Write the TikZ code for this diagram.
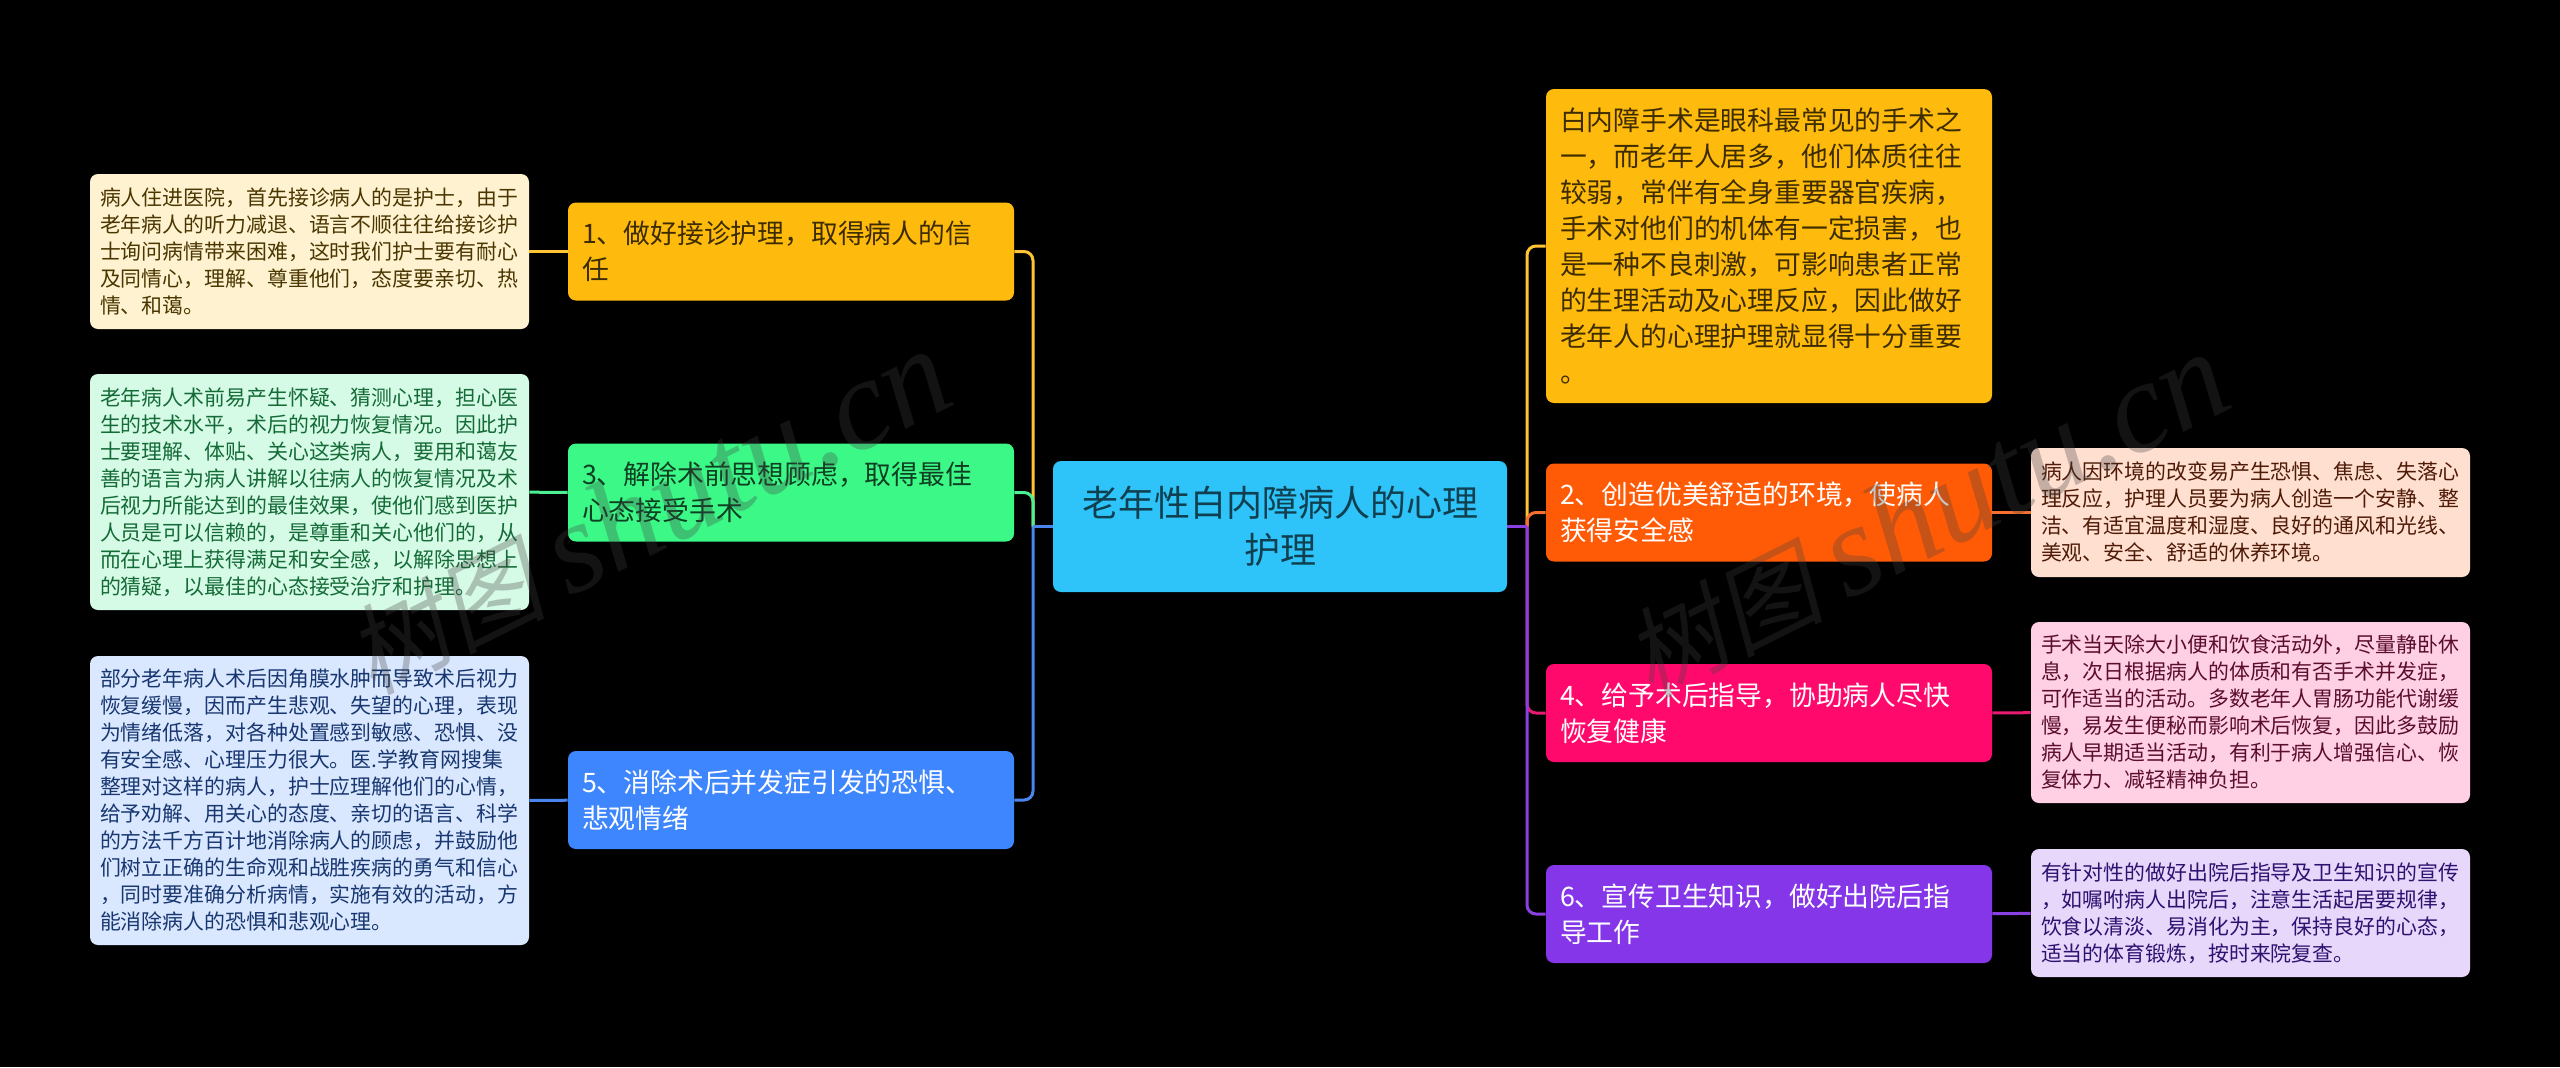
\documentclass[tikz,border=0pt]{standalone}
\usepackage{fontspec}
\setmainfont{Noto Sans CJK SC}
\newfontfamily\marklatin[Scale=1.12]{Liberation Serif}
\newfontfamily\markcjk[FakeSlant=0.2,Scale=0.85]{Noto Sans CJK SC}
\usetikzlibrary{positioning}

\definecolor{rootfill}{HTML}{2EC3F9}
\definecolor{roottext}{HTML}{10404F}
\definecolor{yellowfill}{HTML}{FFBB0D}
\definecolor{yellowtext}{HTML}{3D2C00}
\definecolor{yellowline}{HTML}{FFC333}
\definecolor{yellowleaf}{HTML}{FFF2D0}
\definecolor{yellowleaftext}{HTML}{4A3600}
\definecolor{greenfill}{HTML}{3CF887}
\definecolor{greentext}{HTML}{0F3F22}
\definecolor{greenline}{HTML}{4CF090}
\definecolor{greenleaf}{HTML}{D5FAE5}
\definecolor{greenleaftext}{HTML}{146B37}
\definecolor{bluefill}{HTML}{3E86FD}
\definecolor{blueline}{HTML}{4A84EC}
\definecolor{blueleaf}{HTML}{DAE8FF}
\definecolor{blueleaftext}{HTML}{183770}
\definecolor{orangefill}{HTML}{FF5A06}
\definecolor{orangeline}{HTML}{F87030}
\definecolor{orangeleaf}{HTML}{FFDFCF}
\definecolor{orangeleaftext}{HTML}{4F1B08}
\definecolor{pinkfill}{HTML}{FF0A6C}
\definecolor{pinkline}{HTML}{E81A72}
\definecolor{pinkleaf}{HTML}{FFCFE3}
\definecolor{pinkleaftext}{HTML}{5A0D2E}
\definecolor{purplefill}{HTML}{8436E8}
\definecolor{purpleline}{HTML}{8A40E0}
\definecolor{purpleleaf}{HTML}{E6D7FB}
\definecolor{purpleleaftext}{HTML}{2F1170}

\begin{document}
\begin{tikzpicture}[x=0.5pt,y=-0.5pt,
    root/.style={rectangle,rounded corners=4pt,fill=rootfill,text=roottext,inner sep=0pt,
      minimum width=227pt,minimum height=65.5pt,text width=205pt,align=center,
      font=\fontsize{18pt}{23.5pt}\selectfont},
    topic/.style 2 args={rectangle,rounded corners=4pt,fill=#1,text=#2,inner sep=0pt,
      minimum width=223pt,text width=209pt,align=left,
      font=\fontsize{13.4pt}{18pt}\selectfont},
    leaf/.style 2 args={rectangle,rounded corners=4pt,fill=#1,text=#2,inner sep=0pt,
      minimum width=219.5pt,text width=209.5pt,align=left,
      font=\fontsize{10.45pt}{13.5pt}\selectfont},
    link/.style={line width=1.5pt,rounded corners=4.5pt},
    watermark/.style={rotate=26.5,text=black!75,text opacity=0.3,inner sep=0pt,
      font=\fontsize{58pt}{58pt}\selectfont}]
    \fill[black] (0,0) rectangle (2560,1067);

    \node[root] (root) at (1280, 526.5) {老年性白内障病人的心理\\护理};
    \coordinate (ljoin) at (1033, 526.5);
    \coordinate (rjoin) at (1527, 526.5);

    \node[topic={yellowfill}{yellowtext},minimum height=49pt] (t1) at (791, 251.5)
    {1、做好接诊护理，取得病人的信\\任};
    \node[topic={greenfill}{greentext},minimum height=49pt] (t3) at (791, 492.5)
    {3、解除术前思想顾虑，取得最佳\\心态接受手术};
    \node[topic={bluefill}{white},minimum height=49pt] (t5) at (791, 800)
    {5、消除术后并发症引发的恐惧、\\悲观情绪};
    \node[topic={yellowfill}{yellowtext},minimum height=157pt] (intro) at (1769, 246)
    {白内障手术是眼科最常见的手术之\\一，而老年人居多，他们体质往往\\较弱，常伴有全身重要器官疾病，\\手术对他们的机体有一定损害，也\\是一种不良刺激，可影响患者正常\\的生理活动及心理反应，因此做好\\老年人的心理护理就显得十分重要\\。};
    \node[topic={orangefill}{white},minimum height=49pt] (t2) at (1769, 512.5)
    {2、创造优美舒适的环境，使病人\\获得安全感};
    \node[topic={pinkfill}{white},minimum height=49pt] (t4) at (1769, 713)
    {4、给予术后指导，协助病人尽快\\恢复健康};
    \node[topic={purplefill}{white},minimum height=49pt] (t6) at (1769, 914)
    {6、宣传卫生知识，做好出院后指\\导工作};

    \node[leaf={yellowleaf}{yellowleaftext},minimum height=77.5pt] (l1) at (309.5, 251.5)
    {病人住进医院，首先接诊病人的是护士，由于\\老年病人的听力减退、语言不顺往往给接诊护\\士询问病情带来困难，这时我们护士要有耐心\\及同情心，理解、尊重他们，态度要亲切、热\\情、和蔼。};
    \node[leaf={greenleaf}{greenleaftext},minimum height=118pt] (l3) at (309.5, 492)
    {老年病人术前易产生怀疑、猜测心理，担心医\\生的技术水平，术后的视力恢复情况。因此护\\士要理解、体贴、关心这类病人，要用和蔼友\\善的语言为病人讲解以往病人的恢复情况及术\\后视力所能达到的最佳效果，使他们感到医护\\人员是可以信赖的，是尊重和关心他们的，从\\而在心理上获得满足和安全感，以解除思想上\\的猜疑，以最佳的心态接受治疗和护理。};
    \node[leaf={blueleaf}{blueleaftext},minimum height=144.5pt] (l5) at (309.5, 800.5)
    {部分老年病人术后因角膜水肿而导致术后视力\\恢复缓慢，因而产生悲观、失望的心理，表现\\为情绪低落，对各种处置感到敏感、恐惧、没\\有安全感、心理压力很大。医.学教育网搜集\\整理对这样的病人，护士应理解他们的心情，\\给予劝解、用关心的态度、亲切的语言、科学\\的方法千方百计地消除病人的顾虑，并鼓励他\\们树立正确的生命观和战胜疾病的勇气和信心\\，同时要准确分析病情，实施有效的活动，方\\能消除病人的恐惧和悲观心理。};
    \node[leaf={orangeleaf}{orangeleaftext},minimum height=64.5pt] (l2) at (2250.5, 512.5)
    {病人因环境的改变易产生恐惧、焦虑、失落心\\理反应，护理人员要为病人创造一个安静、整\\洁、有适宜温度和湿度、良好的通风和光线、\\美观、安全、舒适的休养环境。};
    \node[leaf={pinkleaf}{pinkleaftext},minimum height=90.5pt] (l4) at (2250.5, 712.5)
    {手术当天除大小便和饮食活动外，尽量静卧休\\息，次日根据病人的体质和有否手术并发症，\\可作适当的活动。多数老年人胃肠功能代谢缓\\慢，易发生便秘而影响术后恢复，因此多鼓励\\病人早期适当活动，有利于病人增强信心、恢\\复体力、减轻精神负担。};
    \node[leaf={purpleleaf}{purpleleaftext},minimum height=64pt] (l6) at (2250.5, 913)
    {有针对性的做好出院后指导及卫生知识的宣传\\，如嘱咐病人出院后，注意生活起居要规律，\\饮食以清淡、易消化为主，保持良好的心态，\\适当的体育锻炼，按时来院复查。};

    % left side
    \draw[link,yellowline] (ljoin) |- (t1.east);
    \draw[link,greenline] (ljoin) |- (t3.east);
    \draw[link,blueline] (ljoin) |- (t5.east);
    \draw[link,blueline] (root.west) -- (ljoin);
    \draw[link,yellowline] (t1) -- (l1);
    \draw[link,greenline] (t3) -- (l3);
    \draw[link,blueline] (t5) -- (l5);
    % right side
    \draw[link,yellowline] (rjoin) |- (intro.west);
    \draw[link,orangeline] (rjoin) |- (t2.west);
    \draw[link,pinkline] (rjoin) |- (t4.west);
    \draw[link,purpleline] (rjoin) |- (t6.west);
    \draw[link,purpleline] (root.east) -- (rjoin);
    \draw[link,orangeline] (t2) -- (l2);
    \draw[link,pinkline] (t4) -- (l4);
    \draw[link,purpleline] (t6) -- (l6);

    \node[watermark] (mark1) at (648, 512) {\markcjk 树图 \marklatin\itshape shutu.cn};
    \node[watermark] (mark2) at (1926, 515) {\markcjk 树图 \marklatin\itshape shutu.cn};
    \end{tikzpicture}
\end{document}
